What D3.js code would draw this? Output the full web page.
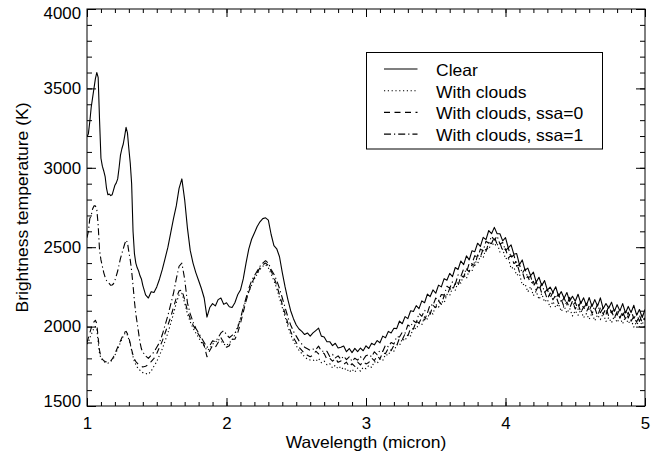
<!DOCTYPE html>
<html>
<head>
<meta charset="utf-8">
<script src="https://cdnjs.cloudflare.com/ajax/libs/d3/7.8.5/d3.min.js"></script>
<style>
  body { margin: 0; background: #fff; }
  svg text { font-family: "Liberation Sans", Arial, Helvetica, sans-serif; font-size: 16.5px; fill: #000; }
</style>
</head>
<body>
<script>
// wavelength grid (micron): 0.01 steps up to 1.40, then 0.02 steps
var wavelength = [
  1.00,1.01,1.02,1.03,1.04,1.05,1.06,1.07,1.08,1.09,
  1.10,1.11,1.12,1.13,1.14,1.15,1.16,1.17,1.18,1.19,
  1.20,1.21,1.22,1.23,1.24,1.25,1.26,1.27,1.28,1.29,
  1.30,1.31,1.32,1.33,1.34,1.35,1.36,1.37,1.38,1.39,1.40,
  1.42,1.44,1.46,1.48,1.50,1.52,1.54,1.56,1.58,1.60,
  1.62,1.64,1.66,1.68,1.70,1.72,1.74,1.76,1.78,1.80,
  1.82,1.84,1.86,1.88,1.90,1.92,1.94,1.96,1.98,2.00,
  2.02,2.04,2.06,2.08,2.10,2.12,2.14,2.16,2.18,2.20,
  2.22,2.24,2.26,2.28,2.30,2.32,2.34,2.36,2.38,2.40,
  2.42,2.44,2.46,2.48,2.50,2.52,2.54,2.56,2.58,2.60,
  2.62,2.64,2.66,2.68,2.70,2.72,2.74,2.76,2.78,2.80,
  2.82,2.84,2.86,2.88,2.90,2.92,2.94,2.96,2.98,3.00,
  3.02,3.04,3.06,3.08,3.10,3.12,3.14,3.16,3.18,3.20,
  3.22,3.24,3.26,3.28,3.30,3.32,3.34,3.36,3.38,3.40,
  3.42,3.44,3.46,3.48,3.50,3.52,3.54,3.56,3.58,3.60,
  3.62,3.64,3.66,3.68,3.70,3.72,3.74,3.76,3.78,3.80,
  3.82,3.84,3.86,3.88,3.90,3.92,3.94,3.96,3.98,4.00,
  4.02,4.04,4.06,4.08,4.10,4.12,4.14,4.16,4.18,4.20,
  4.22,4.24,4.26,4.28,4.30,4.32,4.34,4.36,4.38,4.40,
  4.42,4.44,4.46,4.48,4.50,4.52,4.54,4.56,4.58,4.60,
  4.62,4.64,4.66,4.68,4.70,4.72,4.74,4.76,4.78,4.80,
  4.82,4.84,4.86,4.88,4.90,4.92,4.94,4.96,4.98,5.00
];

// brightness temperature (K)
var clear = [
  3195,3215,3290,3380,3440,3500,3560,3600,3570,3300,
  3060,3010,2980,2945,2870,2830,2835,2825,2830,2860,
  2890,2905,2930,3000,3080,3120,3150,3200,3255,3220,
  3120,3030,2900,2600,2460,2400,2370,2350,2320,2300,2260,
  2200,2180,2220,2215,2250,2300,2360,2430,2500,2590,
  2680,2760,2870,2930,2800,2620,2480,2400,2340,2290,
  2240,2180,2060,2120,2145,2130,2170,2180,2140,2150,
  2125,2120,2150,2200,2230,2300,2400,2490,2550,2590,
  2630,2660,2680,2685,2670,2580,2510,2490,2440,2340,
  2250,2170,2100,2050,2010,1985,1970,1950,1960,1940,
  1960,1975,1990,1940,1935,1905,1905,1880,1895,1865,
  1870,1878,1842,1862,1836,1863,1842,1865,1848,1879,
  1862,1895,1885,1912,1898,1940,1930,1970,1960,1990,
  1987,2035,2018,2063,2050,2100,2095,2132,2113,2162,
  2150,2205,2189,2231,2210,2261,2250,2302,2292,2335,
  2315,2372,2360,2413,2390,2445,2420,2478,2472,2525,
  2505,2562,2548,2605,2585,2625,2585,2585,2540,2560,
  2495,2515,2455,2460,2390,2420,2355,2368,2320,2343,
  2280,2311,2258,2290,2230,2249,2216,2251,2192,2220,
  2179,2215,2159,2191,2160,2204,2145,2181,2132,2183,
  2127,2170,2129,2181,2113,2145,2115,2154,2096,2138,
  2099,2145,2086,2127,2088,2134,2072,2108,2057,2108
];

var clouds = [
  1890,1900,1930,1950,1970,1990,2000,1990,1900,1830,
  1800,1790,1780,1775,1775,1770,1775,1780,1790,1800,
  1820,1840,1860,1880,1900,1920,1940,1955,1960,1945,
  1920,1890,1850,1810,1780,1760,1745,1735,1725,1715,1710,
  1705,1700,1720,1750,1780,1820,1860,1910,1960,2020,
  2080,2150,2200,2210,2150,2080,2030,1990,1960,1930,
  1900,1880,1850,1860,1890,1900,1920,1910,1890,1880,
  1900,1910,1950,2000,2050,2110,2170,2220,2260,2300,
  2330,2360,2380,2390,2370,2330,2290,2240,2180,2120,
  2060,2000,1950,1910,1880,1850,1830,1810,1795,1790,
  1790,1782,1800,1773,1783,1760,1767,1740,1756,1734,
  1749,1727,1737,1713,1731,1713,1739,1720,1743,1735,
  1755,1743,1780,1769,1795,1786,1825,1819,1856,1845,
  1886,1880,1923,1911,1950,1941,1995,1984,2020,2010,
  2063,2048,2094,2079,2140,2122,2161,2148,2203,2195,
  2245,2229,2282,2274,2328,2303,2354,2349,2414,2396,
  2445,2432,2496,2486,2531,2508,2525,2470,2488,2426,
  2435,2365,2375,2323,2333,2262,2270,2218,2252,2195,
  2223,2171,2208,2155,2172,2121,2158,2120,2143,2095,
  2131,2085,2115,2067,2100,2071,2106,2056,2082,2046,
  2085,2037,2074,2044,2083,2032,2057,2024,2066,2026,
  2057,2018,2062,2020,2044,1997,2030,1999,2032,1988
];

var cloudsSsa0 = [
  1900,1930,1960,1990,2010,2030,2040,2020,1930,1850,
  1810,1795,1785,1780,1778,1775,1780,1785,1795,1810,
  1830,1850,1870,1890,1910,1930,1950,1965,1970,1955,
  1930,1895,1855,1820,1795,1780,1770,1760,1755,1750,1745,
  1750,1760,1780,1800,1830,1870,1910,1960,2010,2060,
  2120,2180,2225,2230,2170,2100,2050,2010,1980,1950,
  1920,1880,1810,1850,1880,1870,1900,1930,1900,1870,
  1880,1920,1920,1960,2020,2090,2160,2220,2270,2310,
  2340,2370,2390,2400,2385,2350,2310,2260,2200,2140,
  2080,2020,1970,1930,1900,1870,1850,1830,1820,1810,
  1819,1845,1828,1838,1830,1795,1801,1782,1800,1775,
  1784,1762,1776,1748,1766,1750,1777,1759,1780,1765,
  1774,1802,1786,1816,1797,1835,1830,1863,1848,1883,
  1880,1928,1917,1955,1940,1992,1985,2034,2023,2057,
  2042,2085,2078,2134,2119,2162,2140,2194,2191,2241,
  2226,2274,2257,2320,2311,2363,2345,2392,2384,2451,
  2438,2490,2474,2529,2523,2565,2518,2528,2475,2490,
  2432,2448,2397,2407,2343,2347,2290,2317,2272,2285,
  2228,2265,2210,2223,2172,2212,2169,2197,2145,2170,
  2124,2155,2117,2161,2111,2144,2090,2124,2092,2131,
  2083,2118,2067,2116,2079,2116,2065,2097,2054,2094,
  2054,2093,2049,2090,2034,2064,2028,2072,2025,2056
];

var cloudsSsa1 = [
  2560,2600,2680,2700,2740,2760,2760,2740,2640,2480,
  2420,2380,2340,2310,2290,2280,2270,2260,2262,2270,
  2290,2320,2350,2390,2430,2460,2490,2520,2545,2530,
  2470,2420,2350,2260,2160,2080,2020,1960,1900,1860,1840,
  1815,1800,1820,1840,1870,1900,1950,2010,2070,2140,
  2210,2300,2380,2400,2300,2150,2080,2030,1990,1960,
  1930,1900,1870,1880,1910,1905,1930,1960,1975,1950,
  1930,1945,1960,1990,2050,2120,2180,2240,2290,2320,
  2350,2380,2400,2415,2400,2360,2330,2290,2240,2180,
  2120,2060,2010,1970,1940,1910,1890,1870,1860,1850,
  1858,1855,1877,1845,1845,1845,1812,1825,1803,1816,
  1794,1814,1792,1810,1781,1801,1789,1811,1791,1817,
  1824,1810,1841,1824,1850,1843,1884,1873,1900,1890,
  1937,1935,1965,1958,2010,1999,2037,2024,2083,2065,
  2102,2085,2140,2133,2180,2161,2202,2198,2254,2242,
  2282,2265,2326,2316,2363,2340,2399,2397,2447,2433,
  2488,2478,2537,2525,2569,2545,2570,2520,2530,2480,
  2495,2435,2452,2380,2391,2336,2363,2305,2318,2256,
  2282,2233,2271,2216,2235,2181,2218,2178,2205,2153,
  2181,2137,2184,2133,2153,2109,2160,2114,2147,2098,
  2142,2099,2141,2088,2117,2074,2134,2086,2115,2072,
  2114,2070,2103,2054,2100,2051,2082,2033,2072,2040
];

var xTicks = [1, 2, 3, 4, 5];
var yTicks = [1500, 2000, 2500, 3000, 3500, 4000];
var legendLabels = ["Clear", "With clouds", "With clouds, ssa=0", "With clouds, ssa=1"];

window.onload = function(){

    var margin = {top: 9, right: 14, bottom: 47, left: 87},
        width = 659 - margin.left - margin.right,
        height = 453 - margin.top - margin.bottom;

    var svg = d3.select("body").append("svg")
        .attr("width", 659)
        .attr("height", 453);

    var g = svg.append("g")
        .attr("transform", "translate(" + margin.left + "," + margin.top + ")");

    var x = d3.scaleLinear().domain([1, 5]).range([0, width]);
    var y = d3.scaleLinear().domain([1500, 4000]).range([height, 0]);

    // series with their line styles
    var series = [
        {label: legendLabels[0], values: clear, dash: null},
        {label: legendLabels[1], values: clouds, dash: "1.2,2.6"},
        {label: legendLabels[2], values: cloudsSsa0, dash: "6,4.5"},
        {label: legendLabels[3], values: cloudsSsa1, dash: "7,3,1.2,3"}
    ];

    g.append("clipPath").attr("id", "plotclip")
        .append("rect").attr("width", width).attr("height", height);

    var line = d3.line()
        .x(function(d){ return x(d[0]); })
        .y(function(d){ return y(d[1]); });

    series.forEach(function(s){
        if (s.values.length != wavelength.length) console.warn(s.label, s.values.length);
        var pts = wavelength.map(function(w, i){ return [w, s.values[i]]; });
        g.append("path")
            .datum(pts)
            .attr("clip-path", "url(#plotclip)")
            .attr("fill", "none")
            .attr("stroke", "#000")
            .attr("stroke-width", 1.1)
            .attr("stroke-linejoin", "round")
            .attr("stroke-dasharray", s.dash)
            .attr("d", line);
    });

    // axes: ticks point inwards on all four sides
    function addAxis(axis, tx, ty, cls){
        var a = g.append("g")
            .attr("class", cls)
            .attr("transform", "translate(" + tx + "," + ty + ")")
            .call(axis);
        a.select(".domain").remove();
        a.selectAll("line").attr("stroke", "#000");
        a.selectAll("text").attr("font-family", null).attr("font-size", null);
        return a;
    }

    addAxis(d3.axisBottom(x).ticks(40).tickSize(-4).tickFormat(""), 0, height, "minor");
    addAxis(d3.axisBottom(x).tickValues(xTicks).tickSize(-8).tickPadding(11)
        .tickFormat(d3.format("d")), 0, height, "xaxis");
    addAxis(d3.axisTop(x).ticks(40).tickSize(-4).tickFormat(""), 0, 0, "minor");
    addAxis(d3.axisTop(x).tickValues(xTicks).tickSize(-8).tickFormat(""), 0, 0, "minor");

    addAxis(d3.axisLeft(y).ticks(25).tickSize(-5).tickFormat(""), 0, 0, "minor");
    var yAxis = addAxis(d3.axisLeft(y).tickValues(yTicks).tickSize(-9).tickPadding(6)
        .tickFormat(d3.format("d")), 0, 0, "yaxis");
    addAxis(d3.axisRight(y).ticks(25).tickSize(-5).tickFormat(""), width, 0, "minor");
    addAxis(d3.axisRight(y).tickValues(yTicks).tickSize(-9).tickFormat(""), width, 0, "minor");

    // end labels sit inside the frame
    yAxis.selectAll("text")
        .attr("dy", function(d){
            if (d == 4000) return "0.6em";
            if (d == 1500) return "0.03em";
            return "0.32em";
        });

    g.append("rect")
        .attr("width", width)
        .attr("height", height)
        .attr("fill", "none")
        .attr("stroke", "#000")
        .attr("stroke-width", 1);

    // axis titles
    svg.append("text")
        .attr("class", "title")
        .attr("x", margin.left + width / 2)
        .attr("y", 448)
        .attr("text-anchor", "middle")
        .text("Wavelength (micron)");

    svg.append("text")
        .attr("class", "title")
        .attr("transform", "translate(28," + (margin.top + height / 2) + ") rotate(-90)")
        .attr("text-anchor", "middle")
        .text("Brightness temperature (K)");

    // legend
    var legend = svg.append("g").attr("transform", "translate(366.5,52.5)");
    legend.append("rect")
        .attr("width", 236)
        .attr("height", 96.5)
        .attr("fill", "#fff")
        .attr("stroke", "#000")
        .attr("stroke-width", 1);

    var rows = legend.selectAll(".row")
        .data(series)
        .enter().append("g")
        .attr("class", "row")
        .attr("transform", function(d, i){ return "translate(0," + (17.5 + i * 21.7) + ")"; });

    rows.append("line")
        .attr("x1", 17.5).attr("x2", 51)
        .attr("y1", -1).attr("y2", -1)
        .attr("stroke", "#000")
        .attr("stroke-width", 1.1)
        .attr("stroke-dasharray", function(d){ return d.dash; });

    rows.append("text")
        .attr("class", "legtext")
        .attr("x", 69.5)
        .attr("y", 6)
        .text(function(d){ return d.label; });

    // the reference type is a little wider than the font
    svg.selectAll("text").each(function(){
        var t = d3.select(this);
        var k = t.classed("title") || t.classed("legtext") ? 1.06 : 1.02;
        var w = this.getComputedTextLength();
        if (w > 0) t.attr("textLength", w * k).attr("lengthAdjust", "spacingAndGlyphs");
    });
};
</script>
</body>
</html>
